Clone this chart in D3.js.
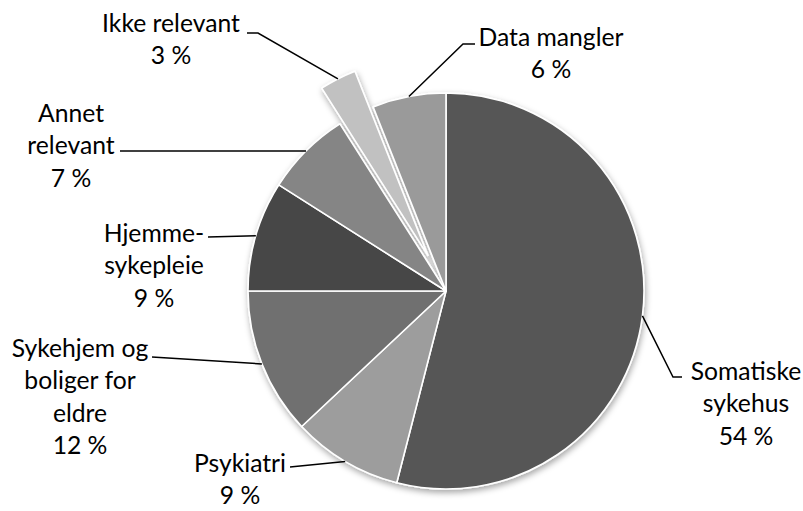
<!DOCTYPE html>
<html>
<head>
<meta charset="utf-8">
<script src="https://cdn.jsdelivr.net/npm/d3@7"></script>
<style>
  body { margin: 0; background: #fff; }
  text { font-family: Lato, "Open Sans", sans-serif; font-size: 24.7px; fill: #000; }
</style>
</head>
<body>
<svg id="chart" width="803" height="511"></svg>
<script>
// slices, clockwise from 12 o'clock
const categories = ["Somatiske sykehus", "Psykiatri", "Sykehjem og boliger for eldre", "Hjemmesykepleie", "Annet relevant", "Ikke relevant", "Data mangler"]
const values = [54, 9, 12, 9, 7, 3, 6]
const labelLines = [
    ["Somatiske", "sykehus", "54 %"],
    ["Psykiatri", "9 %"],
    ["Sykehjem og", "boliger for", "eldre", "12 %"],
    ["Hjemme-", "sykepleie", "9 %"],
    ["Annet", "relevant", "7 %"],
    ["Ikke relevant", "3 %"],
    ["Data mangler", "6 %"]
]
const sliceColors = ["#575757", "#9d9d9d", "#707070", "#464646", "#858585", "#c1c1c1", "#9a9a9a"]

function drawChart() {
    const svg = d3.select("#chart")
    const cx = 446, cy = 291, radius = 198
    const explodeBy = [0, 0, 0, 0, 0, 40, 0]   // only "Ikke relevant" is pulled out

    // label placement: text centre x / first baseline, leader end, elbow side
    const layout = [
        {x: 746, y: 380, lx: 682, ly: 377, elbow: -9},
        {x: 240, y: 472, lx: 290, ly: 467, elbow: 0},
        {x: 80,  y: 357, lx: 152, ly: 357, elbow: 0},
        {x: 154, y: 242, lx: 208, ly: 237, elbow: 0},
        {x: 71,  y: 122, lx: 120, ly: 151, elbow: 0},
        {x: 171, y: 32,  lx: 247, ly: 33,  elbow: 11},
        {x: 551, y: 46,  lx: 475, ly: 44,  elbow: -12}
    ]
    const lineGap = 32.4

    const defs = svg.append("defs")
    defs.append("filter")
        .attr("id", "shadow")
        .attr("x", "-20%").attr("y", "-20%").attr("width", "140%").attr("height", "140%")
        .append("feDropShadow")
        .attr("dx", 1).attr("dy", 3)
        .attr("stdDeviation", 3)
        .attr("flood-color", "#000")
        .attr("flood-opacity", 0.35)

    const pie = d3.pie().sort(null).value(d => d)
    const arcs = pie(values)
    const arc = d3.arc().innerRadius(0).outerRadius(radius)
    const edge = d3.arc().innerRadius(radius).outerRadius(radius)

    // offset along the slice's mid angle
    function shift(d, i) {
        const a = (d.startAngle + d.endAngle) / 2
        return [Math.sin(a) * explodeBy[i], -Math.cos(a) * explodeBy[i]]
    }

    const g = svg.append("g")
        .attr("transform", `translate(${cx},${cy})`)
        .attr("filter", "url(#shadow)")

    g.selectAll("path.slice")
        .data(arcs)
        .join("path")
        .attr("class", "slice")
        .attr("d", arc)
        .attr("transform", (d, i) => `translate(${shift(d, i)})`)
        .attr("fill", (d, i) => sliceColors[i])
        .attr("stroke", "#fff")
        .attr("stroke-width", 1.6)
        .attr("stroke-linejoin", "round")

    // leader lines from the middle of each outer arc to the label
    const line = d3.line()
    svg.selectAll("path.leader")
        .data(arcs)
        .join("path")
        .attr("class", "leader")
        .attr("fill", "none")
        .attr("stroke", "#000")
        .attr("stroke-width", 1.5)
        .attr("d", (d, i) => {
            const c = edge.centroid(d)
            const s = shift(d, i)
            const p0 = [cx + c[0] + s[0], cy + c[1] + s[1]]
            const L = layout[i]
            const pts = [p0]
            if (L.elbow) pts.push([L.lx + L.elbow, L.ly])
            pts.push([L.lx, L.ly])
            return line(pts)
        })

    const labels = svg.selectAll("text.label")
        .data(arcs)
        .join("text")
        .attr("class", "label")
        .attr("text-anchor", "middle")
        .attr("x", (d, i) => layout[i].x)
        .attr("y", (d, i) => layout[i].y)

    labels.selectAll("tspan")
        .data((d, i) => labelLines[i].map(t => ({t, x: layout[i].x})))
        .join("tspan")
        .attr("x", d => d.x)
        .attr("dy", (d, j) => j === 0 ? 0 : lineGap)
        .text(d => d.t)
}

drawChart()
</script>
</body>
</html>
